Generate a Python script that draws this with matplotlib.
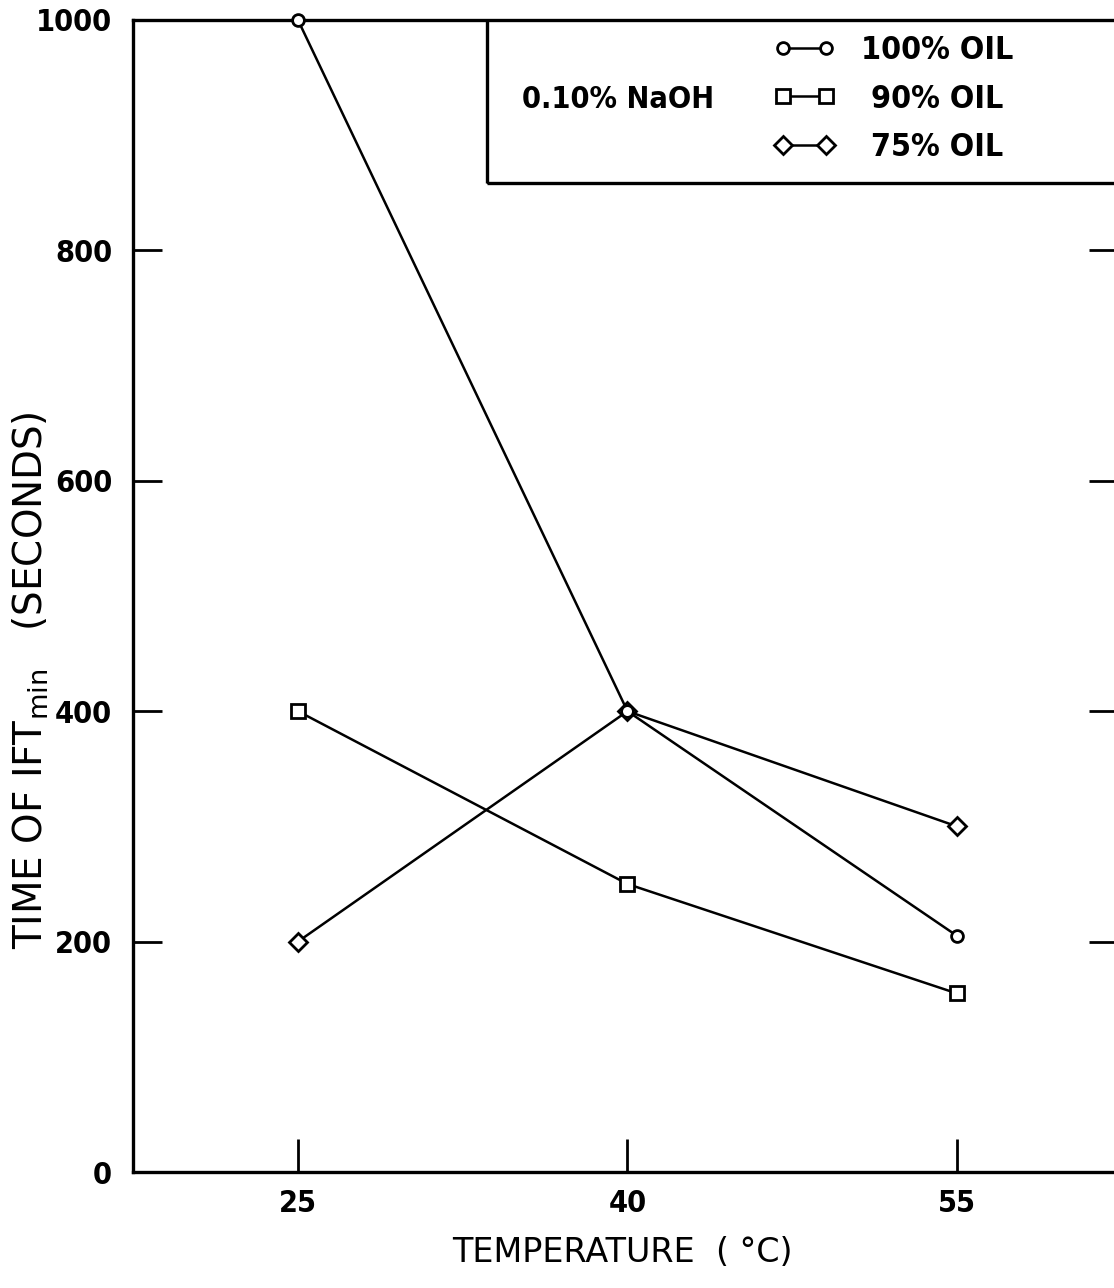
import matplotlib
matplotlib.use("Agg")
import matplotlib.pyplot as plt
from matplotlib import font_manager
from matplotlib.patches import Rectangle

# Data
temperature = [25, 40, 55]
oil_100 = [1000, 400, 205]
oil_90 = [400, 250, 155]
oil_75 = [200, 400, 300]
y_ticks = [0, 200, 400, 600, 800, 1000]
x_ticks = [25, 40, 55]

plt.rcParams["font.family"] = ["DejaVu Sans"]

# Narrow, heavy face for numbers and key text
entries = font_manager.fontManager.ttflist
has_condensed = any(f.name == "DejaVu Sans" and f.stretch == "condensed" for f in entries)
has_roboto = any(f.name == "Roboto" for f in entries)
if has_condensed:
    num_font = dict(family=["DejaVu Sans"], stretch="condensed", weight="bold")
elif has_roboto:
    num_font = dict(family=["Roboto", "DejaVu Sans"], weight="bold")
else:
    num_font = dict(family=["DejaVu Sans"], weight="bold")
key_font = dict(num_font)

W, H = 1114, 1288
fig = plt.figure(figsize=(W / 100, H / 100), dpi=100)
ax = fig.add_axes([133 / W, 1 - 1172 / H, (1118 - 133) / W, (1172 - 20) / H])

ax.set_xlim(17.49, 62.33)
ax.set_ylim(0, 1000)

line_kw = dict(color="black", lw=1.8, mfc="white", mec="black", mew=2.0,
               clip_on=False)
ax.plot(temperature, oil_75, marker="D", ms=9, label=" 75% OIL", zorder=3, **line_kw)
ax.plot(temperature, oil_90, marker="s", ms=10.5, label=" 90% OIL", zorder=4, **line_kw)
ax.plot(temperature, oil_100, marker="o", ms=8.5, label="100% OIL", zorder=5, **line_kw)

for s in ax.spines.values():
    s.set_linewidth(2.4)

ax.set_xticks(x_ticks)
ax.set_yticks(y_ticks)
ax.tick_params(axis="y", direction="in", length=21, width=2.0, pad=15,
               left=True, right=True)
ax.tick_params(axis="x", direction="in", length=24, width=2.0, pad=12, top=False)
for lab in ax.get_xticklabels() + ax.get_yticklabels():
    lab.set_fontproperties(font_manager.FontProperties(size=22, **num_font))

# Key box hanging from the top edge
box = Rectangle((0.3594, 0.8585), 1.0, 0.2, transform=ax.transAxes,
                fill=False, lw=2.4, ec="black", zorder=6)
ax.add_patch(box)
ax.text((522 - 133) / 985, (1172 - 100) / 1152, "0.10% NaOH",
        transform=ax.transAxes, va="center", ha="left",
        fontproperties=font_manager.FontProperties(size=22, **key_font))

handles, labels = ax.get_legend_handles_labels()
order = [2, 1, 0]
ax.legend([handles[i] for i in order], [labels[i] for i in order],
          loc="upper left", numpoints=2, frameon=False,
          prop=font_manager.FontProperties(size=23, **key_font),
          handlelength=1.95, handletextpad=0.8,
          labelspacing=0.55, borderpad=0, borderaxespad=0,
          bbox_to_anchor=(773 / W, 1 - 35 / H), bbox_transform=fig.transFigure)

fig.text(31 / W, 1 - 680 / H, r"TIME OF IFT$_{\mathrm{min}}$   (SECONDS)",
         rotation=90, ha="center", va="center", fontsize=28)
fig.text(622 / W, 1 - 1252 / H, "TEMPERATURE  ( °C)",
         ha="center", va="center", fontsize=24)

fig.savefig("out.png", dpi=100)
